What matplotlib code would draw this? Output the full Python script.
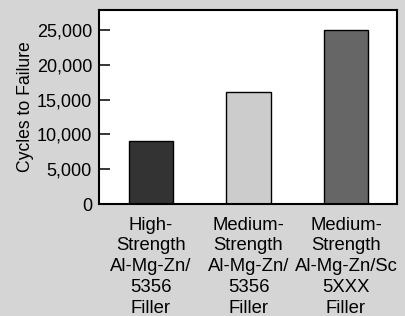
import matplotlib.pyplot as plt

categories = [
    "High-\nStrength\nAl-Mg-Zn/\n5356\nFiller",
    "Medium-\nStrength\nAl-Mg-Zn/\n5356\nFiller",
    "Medium-\nStrength\nAl-Mg-Zn/Sc\n5XXX\nFiller",
]
cycles = [9000, 16100, 25000]
bar_colors = ["#333333", "#cccccc", "#666666"]
yticks = [0, 5000, 10000, 15000, 20000, 25000]

plt.rcParams["font.family"] = ["Liberation Sans", "DejaVu Sans"]
bg = "#d5d5d5"

fig = plt.figure(figsize=(4.05, 3.16), dpi=100, facecolor=bg)
ax = fig.add_axes([0.2444, 0.3544, 0.7358, 0.614])

x = range(len(categories))
ax.bar(x, cycles, width=0.46, color=bar_colors, edgecolor="black", linewidth=1.0)

ax.set_xlim(-0.533, 2.523)
ax.set_ylim(0, 27900)
ax.set_yticks(yticks)
ax.set_yticklabels([f"{v:,}" for v in yticks])
ax.set_xticks(list(x))
ax.set_xticklabels(categories, linespacing=1.3, va="top", fontsize=13.3)

ax.tick_params(axis="y", direction="in", length=8, width=1.1, pad=5,
               labelsize=13, colors="black")
ax.tick_params(axis="x", length=0, pad=9)

for s in ax.spines.values():
    s.set_linewidth(1.5)

ax.set_ylabel("Cycles to Failure", fontsize=12.7, labelpad=2)

fig.savefig("out.png", dpi=100, facecolor=bg)
